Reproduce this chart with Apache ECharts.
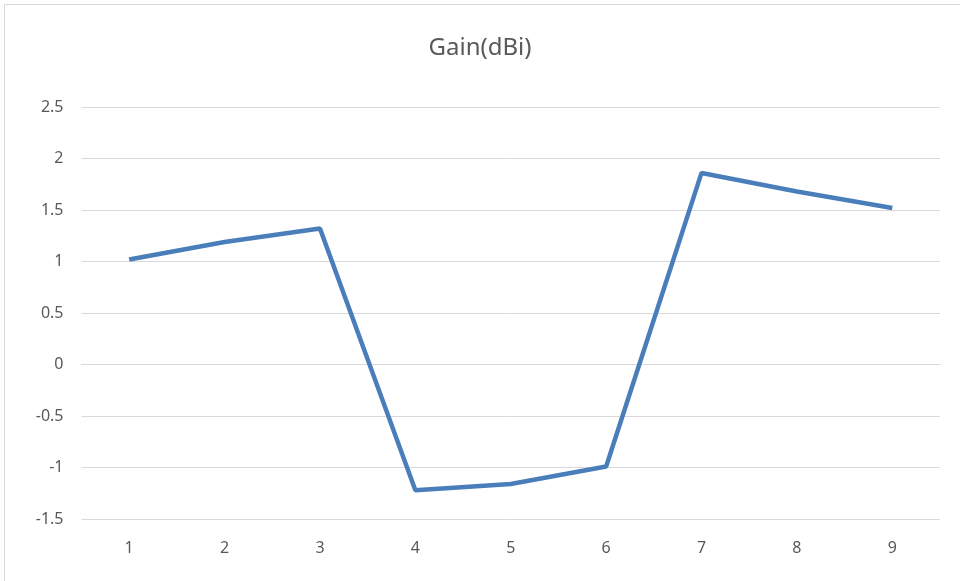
<!DOCTYPE html>
<html>
<head>
<meta charset="utf-8">
<script src="https://cdn.jsdelivr.net/npm/echarts@6/dist/echarts.min.js"></script>
<style>
  html, body { margin: 0; padding: 0; background: #fff; }
  #chart { width: 960px; height: 581px; }
</style>
</head>
<body>
<div id="chart"></div>
<script>
var categories = ["1", "2", "3", "4", "5", "6", "7", "8", "9"];
var gainValues = [1.02, 1.19, 1.32, -1.22, -1.16, -0.99, 1.86, 1.68, 1.52];

var myChart = echarts.init(document.getElementById("chart"));

var option = {
  animation: false,
  textStyle: { fontFamily: "Noto Sans" },
  title: {
    text: "Gain(dBi)",
    left: "center",
    top: 31,
    textStyle: { color: "#595959", fontSize: 24, fontWeight: "normal" }
  },
  graphic: [
    {
      type: "rect",
      shape: { x: 4.5, y: 4.5, width: 1000, height: 1000 },
      style: { fill: "none", stroke: "#d9d9d9", lineWidth: 1 },
      silent: true
    }
  ],
  grid: { left: 81.5, right: 20, top: 107, bottom: 62 },
  xAxis: {
    type: "category",
    data: categories,
    boundaryGap: true,
    axisLine: { show: true, lineStyle: { color: "#d9d9d9" } },
    axisTick: { show: false },
    axisLabel: { color: "#595959", fontSize: 16, margin: 21 }
  },
  yAxis: {
    type: "value",
    min: -1.5,
    max: 2.5,
    interval: 0.5,
    axisLine: { show: false },
    axisTick: { show: false },
    axisLabel: { color: "#595959", fontSize: 16, margin: 18 },
    splitLine: { lineStyle: { color: "#d9d9d9", width: 1 } }
  },
  series: [
    {
      type: "line",
      data: gainValues,
      symbol: "none",
      lineStyle: { color: "#4a7ebb", width: 4.5 },
      itemStyle: { color: "#4a7ebb" }
    }
  ]
};

myChart.setOption(option);
</script>
</body>
</html>
